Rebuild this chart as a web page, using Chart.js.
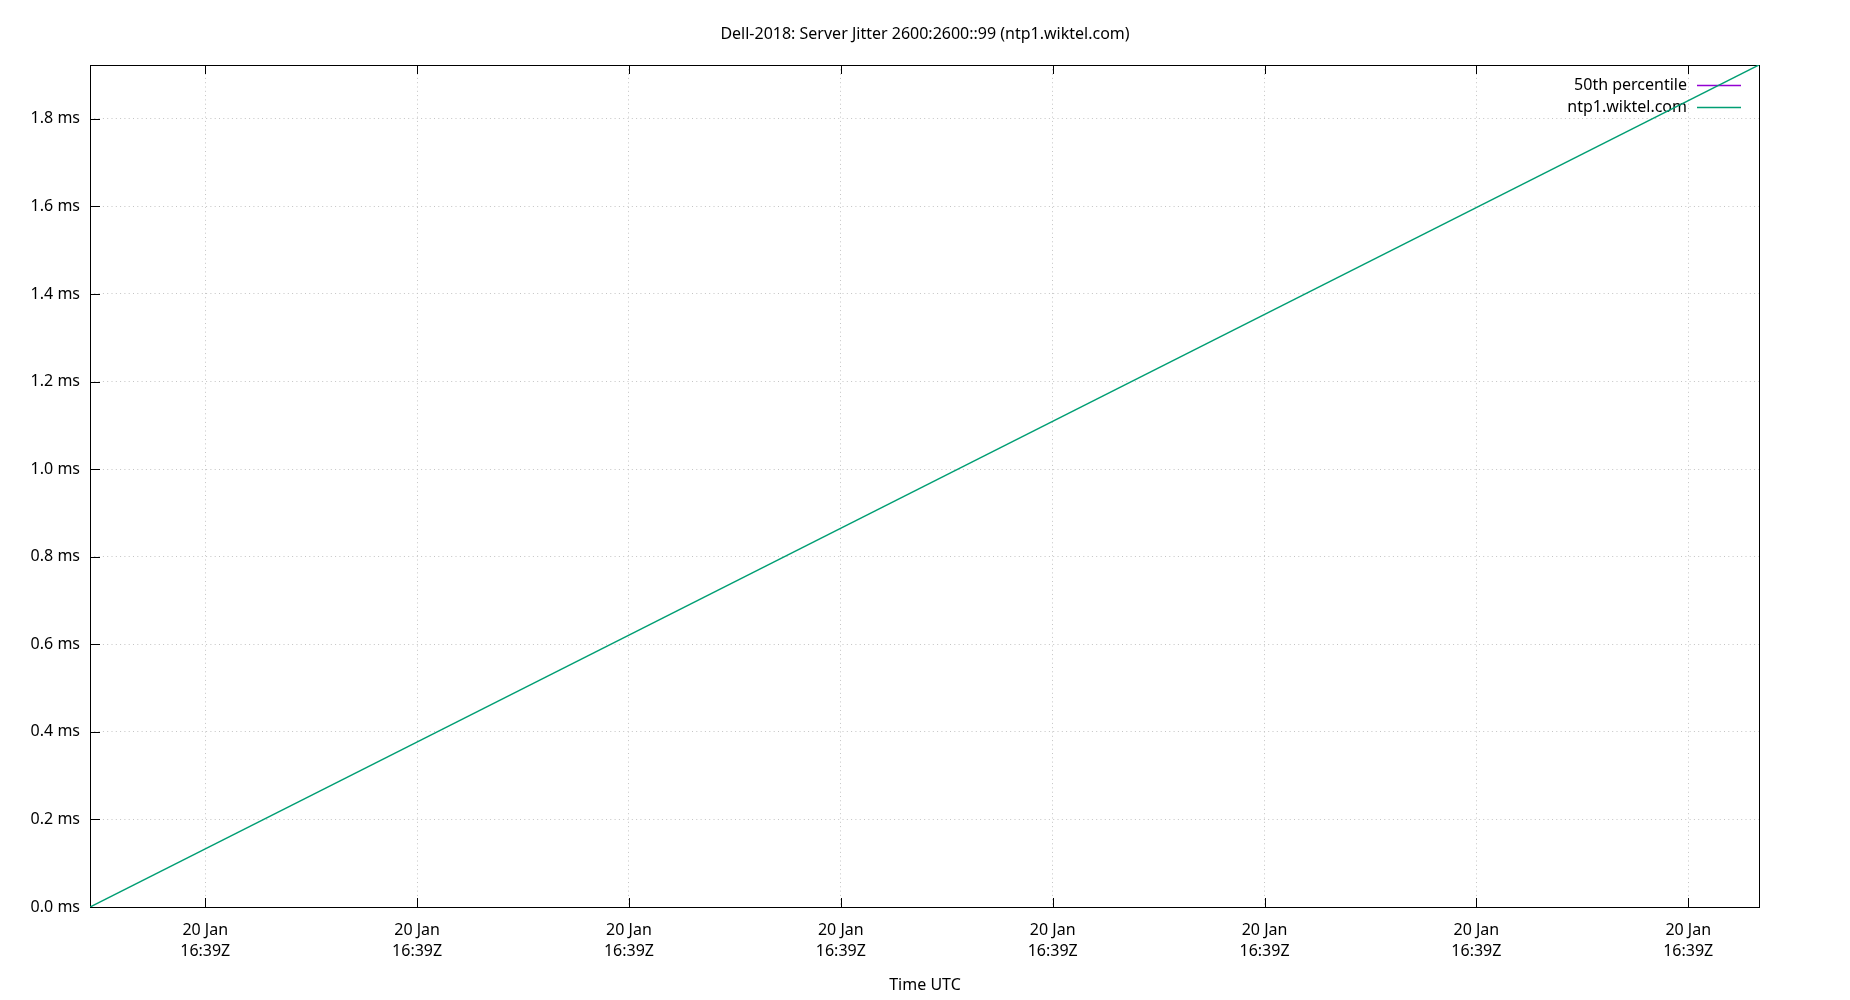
<!DOCTYPE html>
<html lang="en">
<head>
  <meta charset="UTF-8">
  <title>Server Jitter</title>
  <script src="https://cdn.jsdelivr.net/npm/chart.js"></script>
  <style>
    body { margin: 0; background: #fff; }
    #wrap { width: 1850px; height: 1000px; }
  </style>
</head>
<body>
  <div id="wrap"><canvas id="jitterChart" width="1850" height="1000"></canvas></div>
  <script>
    // chart data (x = seconds past 16:39:00Z, y = ms)
    const titleText = 'Dell-2018: Server Jitter 2600:2600::99 (ntp1.wiktel.com)';
    const axisTitle = 'Time UTC';
    const seriesNames = ['50th percentile', 'ntp1.wiktel.com'];
    const seriesColors = ['#9400d3', '#009e73'];
    const percentileX = [];
    const percentileY = [];
    const jitterX = [2.28, 41.67];
    const jitterY = [0.0, 1.923];
    const xTickValues = [5, 10, 15, 20, 25, 30, 35, 40];
    const xTickLabels = ['20 Jan|16:39Z', '20 Jan|16:39Z', '20 Jan|16:39Z', '20 Jan|16:39Z',
                         '20 Jan|16:39Z', '20 Jan|16:39Z', '20 Jan|16:39Z', '20 Jan|16:39Z'];
    const yTickValues = [0.0, 0.2, 0.4, 0.6, 0.8, 1.0, 1.2, 1.4, 1.6, 1.8];

    const FONT = '"Noto Sans", "Open Sans", sans-serif';

    const toPoints = (xs, ys) => xs.map((x, i) => ({ x: x, y: ys[i] }));

    // gnuplot-ish frame, inward ticks (left/bottom/top), titles, legend
    const gnuplotDecor = {
      id: 'gnuplotDecor',
      beforeDatasetsDraw(chart) {
        const c = chart.ctx;
        const a = chart.chartArea;
        const xs = chart.scales.x, ys = chart.scales.y;
        c.save();
        c.strokeStyle = '#000';
        c.lineWidth = 1;
        c.beginPath();
        xs.ticks.forEach(t => {
          const px = Math.round(xs.getPixelForValue(t.value)) + 0.5;
          c.moveTo(px, a.bottom); c.lineTo(px, a.bottom - 9);
          c.moveTo(px, a.top); c.lineTo(px, a.top + 9);
        });
        ys.ticks.forEach(t => {
          const py = Math.round(ys.getPixelForValue(t.value)) + 0.5;
          c.moveTo(a.left, py); c.lineTo(a.left + 10, py);
        });
        c.stroke();
        c.strokeRect(Math.round(a.left) + 0.5, Math.round(a.top) + 0.5,
                     Math.round(a.right - a.left), Math.round(a.bottom - a.top));

        // titles
        c.fillStyle = '#000';
        c.font = '16px ' + FONT;
        c.textAlign = 'center';
        c.textBaseline = 'middle';
        c.fillText(titleText, 925, 34);
        c.fillText(axisTitle, 925, 985);

        // legend, text right-aligned with sample line to the right
        c.textAlign = 'right';
        chart.data.datasets.forEach((ds, i) => {
          const y = 85 + i * 22;
          c.fillStyle = '#000';
          c.fillText(ds.label, 1687, y);
          c.strokeStyle = ds.borderColor;
          c.lineWidth = 1.5;
          c.beginPath();
          c.moveTo(1697, y + 0.5); c.lineTo(1741, y + 0.5);
          c.stroke();
        });
        c.restore();
      }
    };

    const ctx = document.getElementById('jitterChart').getContext('2d');
    const chart = new Chart(ctx, {
      type: 'line',
      data: {
        datasets: [
          {
            label: seriesNames[0],
            data: toPoints(percentileX, percentileY),
            borderColor: seriesColors[0],
            borderWidth: 1.5,
            pointRadius: 0
          },
          {
            label: seriesNames[1],
            data: toPoints(jitterX, jitterY),
            borderColor: seriesColors[1],
            borderWidth: 1.5,
            pointRadius: 0
          }
        ]
      },
      options: {
        responsive: false,
        animation: false,
        devicePixelRatio: 1,
        layout: { padding: { top: 65, right: 91, bottom: 0, left: 0 } },
        plugins: {
          legend: { display: false },
          title: { display: false },
          tooltip: { enabled: false }
        },
        scales: {
          x: {
            type: 'linear',
            min: jitterX[0],
            max: jitterX[jitterX.length - 1],
            afterBuildTicks: s => { s.ticks = xTickValues.map(v => ({ value: v })); },
            afterFit: s => { s.height = 93; },
            grid: { color: '#c4c4c4', lineWidth: 1, drawTicks: false },
            border: { display: false, dash: [1, 3.3] },
            ticks: {
              padding: 13,
              maxRotation: 0,
              autoSkip: false,
              color: '#000',
              font: { family: FONT, size: 16, lineHeight: 1.3 },
              callback: (v, i) => xTickLabels[i].split('|')
            }
          },
          y: {
            type: 'linear',
            min: 0,
            max: 1.923,
            afterBuildTicks: s => { s.ticks = yTickValues.map(v => ({ value: v })); },
            afterFit: s => { s.width = 90; },
            grid: { color: '#c4c4c4', lineWidth: 1, drawTicks: false },
            border: { display: false, dash: [1, 3.3] },
            ticks: {
              padding: 10,
              color: '#000',
              font: { family: FONT, size: 16 },
              callback: v => v.toFixed(1) + ' ms'
            }
          }
        }
      },
      plugins: [gnuplotDecor]
    });
  </script>
</body>
</html>
